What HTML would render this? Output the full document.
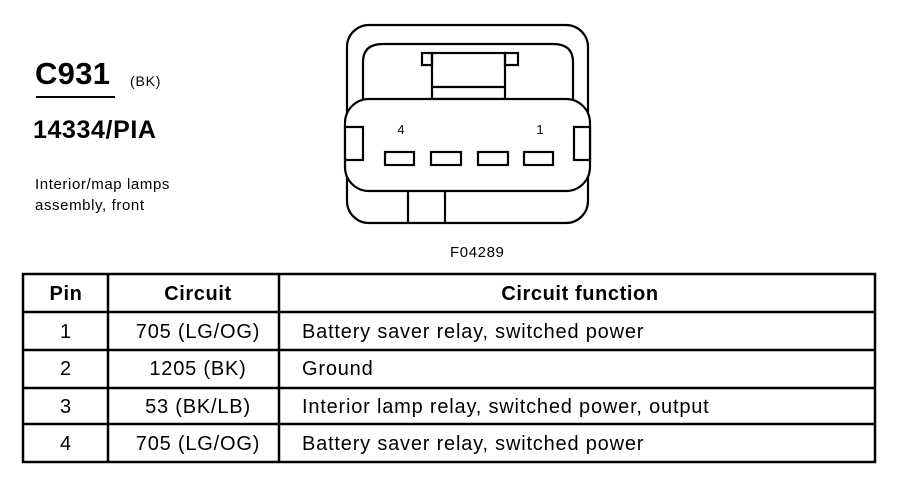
<!DOCTYPE html>
<html><head><style>
body{margin:0;background:#fff;width:898px;height:480px;overflow:hidden;position:relative;font-family:"Liberation Sans",Arial,sans-serif;color:#000}
.t{position:absolute;white-space:nowrap}
</style></head><body>
<div class="t" style="left:35px;top:56px;font-size:31px;font-weight:bold;letter-spacing:0.3px">C931</div>
<div style="position:absolute;left:36px;top:96px;width:79px;height:2px;background:#000"></div>
<div class="t" style="left:130px;top:73px;font-size:14px;letter-spacing:0.8px">(BK)</div>
<div class="t" style="left:33px;top:116px;font-size:25px;font-weight:bold;letter-spacing:0.6px">14334/PIA</div>
<div class="t" style="left:35px;top:174px;font-size:15px;line-height:21px;letter-spacing:0.6px">Interior/map lamps<br>assembly, front</div>
<div class="t" style="left:450px;top:244px;font-size:15px;letter-spacing:0.6px">F04289</div>
<svg style="position:absolute;left:0;top:0" width="898" height="480" fill="none" stroke="#000" stroke-width="2.2">
<rect x="347" y="25" width="241" height="198" rx="22"/>
<path d="M363 99 V62 Q363 44 383 44 H553 Q573 44 573 62 V99"/>
<rect x="422" y="53" width="10" height="12"/><rect x="505" y="53" width="13" height="12"/>
<rect x="432" y="53" width="73" height="46"/><line x1="432" y1="87" x2="505" y2="87"/>
<rect x="345" y="99" width="245" height="92" rx="24" fill="#fff"/>
<rect x="345" y="127" width="18" height="33" fill="#fff"/><rect x="574" y="127" width="16" height="33" fill="#fff"/>
<rect x="385" y="152" width="29" height="13"/><rect x="431" y="152" width="30" height="13"/>
<rect x="478" y="152" width="30" height="13"/><rect x="524" y="152" width="29" height="13"/>
<line x1="408" y1="191" x2="408" y2="223"/><line x1="445" y1="191" x2="445" y2="223"/>
<g stroke-width="2.5">
<rect x="23" y="274" width="852" height="188"/>
<line x1="23" y1="312" x2="875" y2="312"/><line x1="23" y1="350" x2="875" y2="350"/>
<line x1="23" y1="388" x2="875" y2="388"/><line x1="23" y1="424" x2="875" y2="424"/>
<line x1="108" y1="274" x2="108" y2="462"/><line x1="279" y1="274" x2="279" y2="462"/>
</g>
<g fill="#000" stroke="none" font-family="Liberation Sans,Arial,sans-serif">
<text x="401" y="134" font-size="13" text-anchor="middle">4</text>
<text x="540" y="134" font-size="13" text-anchor="middle">1</text>
<g font-size="20" font-weight="bold" text-anchor="middle" letter-spacing="0.6">
<text x="66" y="300">Pin</text><text x="198" y="300">Circuit</text><text x="580" y="300">Circuit function</text></g>
<g font-size="20" text-anchor="middle" letter-spacing="0.8">
<text x="66" y="338">1</text><text x="198" y="338">705 (LG/OG)</text>
<text x="66" y="375">2</text><text x="198" y="375">1205 (BK)</text>
<text x="66" y="413">3</text><text x="198" y="413">53 (BK/LB)</text>
<text x="66" y="450">4</text><text x="198" y="450">705 (LG/OG)</text></g>
<g font-size="20" letter-spacing="0.8">
<text x="302" y="338">Battery saver relay, switched power</text>
<text x="302" y="375">Ground</text>
<text x="302" y="413">Interior lamp relay, switched power, output</text>
<text x="302" y="450">Battery saver relay, switched power</text></g>
</g>
</svg>
</body></html>
